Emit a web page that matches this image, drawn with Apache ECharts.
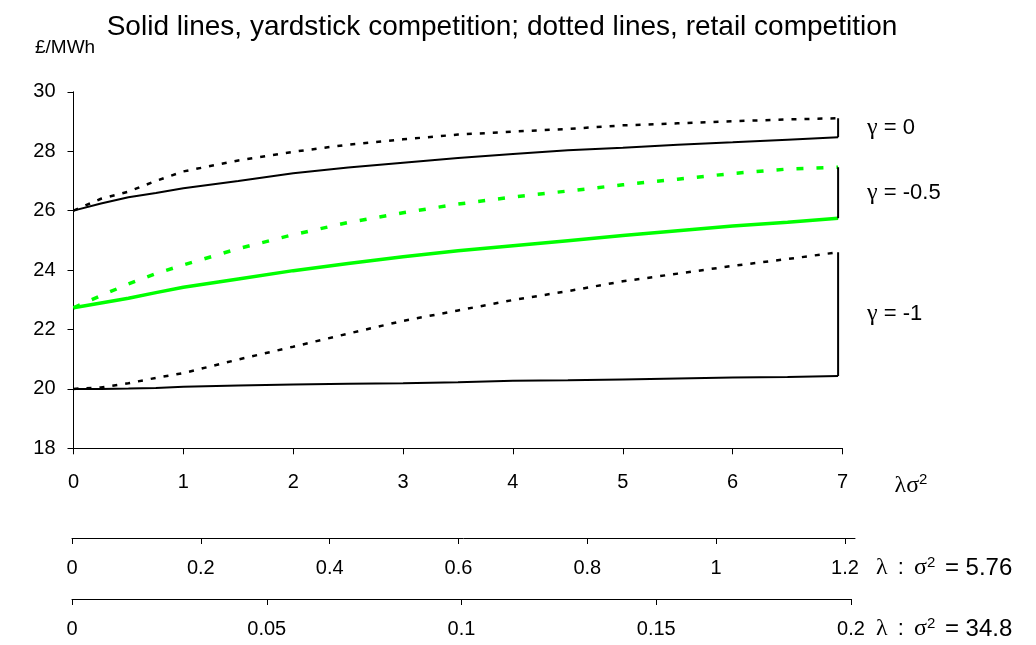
<!DOCTYPE html>
<html>
<head>
<meta charset="utf-8">
<script src="https://cdn.jsdelivr.net/npm/echarts@6/dist/echarts.min.js"></script>
<style>
html,body{margin:0;padding:0;background:#fff;}
#chart{width:1036px;height:645px;}
</style>
</head>
<body>
<div id="chart"></div>
<script>
// ---- data ----
const xVals = [0, 0.25, 0.5, 0.75, 1, 1.5, 2, 2.5, 3, 3.5, 4, 4.5, 5, 5.5, 6, 6.5, 6.96];
const g0Yard   = [26.00, 26.24, 26.45, 26.59, 26.75, 27.00, 27.26, 27.45, 27.61, 27.77, 27.91, 28.03, 28.12, 28.22, 28.30, 28.39, 28.47];
const g0Retail = [26.00, 26.40, 26.64, 27.00, 27.32, 27.69, 27.98, 28.22, 28.40, 28.56, 28.66, 28.75, 28.87, 28.94, 29.01, 29.07, 29.11];
const g05Yard   = [22.73, 22.89, 23.05, 23.24, 23.42, 23.70, 23.98, 24.22, 24.45, 24.65, 24.82, 24.99, 25.16, 25.32, 25.48, 25.61, 25.74];
const g05Retail = [22.73, 23.14, 23.53, 23.88, 24.17, 24.72, 25.19, 25.60, 25.93, 26.22, 26.46, 26.66, 26.87, 27.06, 27.25, 27.40, 27.46];
const g1Yard   = [20.00, 20.00, 20.01, 20.03, 20.07, 20.11, 20.15, 20.17, 20.19, 20.22, 20.27, 20.29, 20.32, 20.35, 20.38, 20.40, 20.43];
const g1Retail = [20.00, 20.05, 20.19, 20.37, 20.53, 20.99, 21.42, 21.86, 22.29, 22.64, 22.99, 23.29, 23.62, 23.88, 24.14, 24.37, 24.60];
const gammaValues = ['0', '-0.5', '-1'];
const lambdaTicks1 = [0, 0.2, 0.4, 0.6, 0.8, 1, 1.2];
const lambdaTicks2 = [0, 0.05, 0.1, 0.15, 0.2];
const sigma2Values = ['5.76', '34.8'];
const titleText = 'Solid lines, yardstick competition; dotted lines, retail competition';
const yUnit = '£/MWh';

// ---- helpers ----
const pair = (ys) => xVals.map((x, i) => [x, ys[i]]);
const last = (a) => a[a.length - 1];
const xEnd = last(xVals);
const FONT = 'Liberation Sans';
const SERIF = 'Liberation Serif';
const black = '#000';
const green = '#00ff00';

const chart = echarts.init(document.getElementById('chart'), null, {renderer: 'canvas'});

function lineSeries(ys, color, width, type, z) {
  return {
    type: 'line', xAxisIndex: 0, yAxisIndex: 0, data: pair(ys),
    showSymbol: false, symbol: 'none', smooth: false, z: z || 2,
    lineStyle: {color: color, width: width, type: type},
    silent: true, animation: false
  };
}
function bracket(yA, yB) {
  return {
    type: 'line', xAxisIndex: 0, yAxisIndex: 0,
    data: [[xEnd, last(yA)], [xEnd, last(yB)]],
    showSymbol: false, symbol: 'none', z: 5,
    lineStyle: {color: black, width: 2, type: 'solid'},
    silent: true, animation: false
  };
}

const axisLineStyle = {lineStyle: {color: '#000', width: 1}};
const labelStyle = {color: '#000', fontFamily: FONT, fontSize: 20};

const option = {
  backgroundColor: '#fff',
  animation: false,
  title: {
    text: titleText, left: 497, top: 8, textAlign: 'center',
    textStyle: {fontFamily: FONT, fontSize: 28, fontWeight: 'normal', color: '#000'}
  },
  grid: [
    {left: 73.5, top: 91.8, width: 769, height: 356.5, containLabel: false},
    {left: 72, top: 537, width: 783, height: 1, containLabel: false},
    {left: 72, top: 598, width: 779, height: 1, containLabel: false}
  ],
  xAxis: [
    {
      type: 'value', gridIndex: 0, min: 0, max: 7, interval: 1,
      axisLine: axisLineStyle, splitLine: {show: false},
      axisTick: {show: true, inside: false, length: 6, lineStyle: {color: '#000'}},
      axisLabel: Object.assign({margin: 24, showMinLabel: true, showMaxLabel: true}, labelStyle)
    },
    {
      type: 'value', gridIndex: 1, min: 0, max: 1.2155, position: 'bottom',
      axisLine: axisLineStyle, splitLine: {show: false},
      axisTick: {show: true, length: 6, customValues: lambdaTicks1, lineStyle: {color: '#000'}},
      axisLabel: Object.assign({margin: 20, customValues: lambdaTicks1, formatter: (v) => String(v)}, labelStyle)
    },
    {
      type: 'value', gridIndex: 2, min: 0, max: 0.2, interval: 0.05, position: 'bottom',
      axisLine: axisLineStyle, splitLine: {show: false},
      axisTick: {show: true, length: 6, customValues: lambdaTicks2, lineStyle: {color: '#000'}},
      axisLabel: Object.assign({margin: 20, customValues: lambdaTicks2, formatter: (v) => String(v)}, labelStyle)
    }
  ],
  yAxis: [
    {
      type: 'value', gridIndex: 0, min: 18, max: 30, interval: 2,
      axisLine: {show: true, lineStyle: {color: '#000', width: 1}}, splitLine: {show: false},
      axisTick: {show: true, inside: false, length: 6, lineStyle: {color: '#000'}},
      axisLabel: Object.assign({margin: 18}, labelStyle)
    },
    {type: 'value', gridIndex: 1, show: false, min: 0, max: 1},
    {type: 'value', gridIndex: 2, show: false, min: 0, max: 1}
  ],
  series: [
    lineSeries(g1Yard, black, 2, 'solid', 3),
    lineSeries(g1Retail, black, 2.5, [5, 8], 3),
    lineSeries(g05Retail, green, 3.5, [7, 13], 2),
    lineSeries(g05Yard, green, 3.5, 'solid', 3),
    lineSeries(g0Yard, black, 2, 'solid', 3),
    lineSeries(g0Retail, black, 2.5, [5, 8], 3),
    bracket(g0Yard, g0Retail),
    bracket(g05Yard, g05Retail),
    bracket(g1Yard, g1Retail)
  ]
};
chart.setOption(option);

// text annotations positioned from the data/axes
const greek = {fontFamily: SERIF, fontSize: 24, fill: '#000'};
const sans = {fontFamily: FONT, fontSize: 22, fill: '#000'};
const sup = {fontFamily: FONT, fontSize: 15, fill: '#000', padding: [0, 0, 11, 0]};
const pairs = [[g0Yard, g0Retail], [g05Yard, g05Retail], [g1Yard, g1Retail]];
const gfx = [];
pairs.forEach((p, i) => {
  const mid = (last(p[0]) + last(p[1])) / 2;
  const pt = chart.convertToPixel({xAxisIndex: 0, yAxisIndex: 0}, [xEnd, mid]);
  gfx.push({
    type: 'text', x: pt[0] + 29, y: pt[1],
    style: {text: '{g|γ}{t| = ' + gammaValues[i] + '}', rich: {g: greek, t: sans}, textVerticalAlign: 'middle', textAlign: 'left'}
  });
});
const mainAxisEnd = chart.convertToPixel({xAxisIndex: 0}, 7);
const mainAxisY = chart.convertToPixel({yAxisIndex: 0}, 18);
gfx.push({
  type: 'text', x: mainAxisEnd + 52, y: mainAxisY + 37,
  style: {text: '{g|λσ}{s|2}', rich: {g: greek, s: sup}, textVerticalAlign: 'middle'}
});
const extraY = [568, 629];
sigma2Values.forEach((v, i) => {
  gfx.push({
    type: 'text', x: 876, y: extraY[i],
    style: {
      text: '{g|λ}{c| : }{g|σ}{s|2}{t| = ' + v + '}',
      rich: {g: greek, c: Object.assign({}, sans, {padding: [0, 4]}), s: sup, t: Object.assign({}, sans, {fontSize: 24, padding: [0, 0, 0, 3]})},
      textVerticalAlign: 'middle'
    }
  });
});
gfx.push({
  type: 'text', x: 35, y: 48,
  style: {text: yUnit, fontFamily: FONT, fontSize: 19, fill: '#000', textVerticalAlign: 'middle'}
});
chart.setOption({graphic: gfx});
</script>
</body>
</html>
